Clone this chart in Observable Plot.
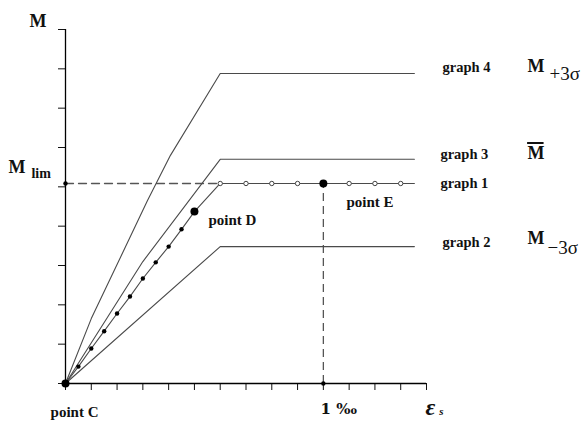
<!DOCTYPE html>
<html>
<head>
<meta charset="utf-8">
<script src="https://cdn.jsdelivr.net/npm/d3@7"></script>
<script src="https://cdn.jsdelivr.net/npm/@observablehq/plot@0.6"></script>
<style>
  html, body { margin: 0; padding: 0; background: white; }
</style>
</head>
<body>
<div id="chart"></div>
<script>
// ---- data (x in ‰ of strain, y in tick units of M) ----
const xTicks = [0, 0.1, 0.2, 0.3, 0.4, 0.5, 0.6, 0.7, 0.8, 0.9, 1.0, 1.1, 1.2, 1.3, 1.4];
const yTicks = [0, 1, 2, 3, 4, 5, 6, 7, 8, 9];
const Mlim = 5.085;

const graph4X = [0, 0.1, 0.318, 0.407, 0.6, 1.353];
const graph4Y = [0, 1.65, 4.65, 5.80, 7.88, 7.88];
const graph3X = [0, 0.3, 0.6, 1.353];
const graph3Y = [0, 3.1, 5.70, 5.70];
const graph2X = [0, 0.6, 1.353];
const graph2Y = [0, 3.48, 3.48];
const graph1X = [0, 0.05, 0.1, 0.15, 0.2, 0.25, 0.3, 0.35, 0.4, 0.45, 0.5, 0.6, 1.353];
const graph1Y = [0, 0.43, 0.89, 1.33, 1.78, 2.21, 2.67, 3.08, 3.48, 3.92, 4.37, Mlim, Mlim];
const smallDotsX = [0.05, 0.1, 0.15, 0.2, 0.25, 0.3, 0.35, 0.4, 0.45];
const smallDotsY = [0.43, 0.89, 1.33, 1.78, 2.21, 2.67, 3.08, 3.48, 3.92];
const openCirclesX = [0.6, 0.7, 0.8, 0.9, 1.1, 1.2, 1.3];
const pointC = {x: 0, y: 0};
const pointD = {x: 0.5, y: 4.37};
const pointE = {x: 1.0, y: Mlim};

// label anchors (data units; baseline-left)
const boldLabels = [
  {t: "point C", x: -0.058, y: -0.839},
  {t: "point D", x: 0.5546, y: 4.042},
  {t: "point E", x: 1.0897, y: 4.50}
];
const permilLabel = [{t: "1 ‰", x: 0.989, y: -0.763}];
const graphLabels = [
  {t: "graph 4", x: 1.462, y: 7.907},
  {t: "graph 3", x: 1.454, y: 5.695},
  {t: "graph 1", x: 1.454, y: 4.983},
  {t: "graph 2", x: 1.462, y: 3.458}
];
const bigM = [
  {t: "M", x: -0.1396, y: 9.051},
  {t: "M", x: -0.221, y: 5.364},
  {t: "M", x: 1.792, y: 7.907},
  {t: "M", x: 1.792, y: 3.534}
];
const mBar = [{t: "M", x: 1.792, y: 5.72}];
const subLim = [{t: "lim", x: -0.132, y: 5.237}];
const subSigma = [
  {t: "+3σ", x: 1.877, y: 7.704},
  {t: "−3σ", x: 1.869, y: 3.305}
];
const epsLabel = [{t: "ε", x: 1.396, y: -0.80}];
const epsSub = [{t: "s", x: 1.449, y: -0.79}];

const zip = (xs, ys) => xs.map((x, i) => ({x, y: ys[i]}));
const lineColor = "#4a4a4a";
const serif = "Liberation Serif, Times New Roman, serif";

const chart = Plot.plot({
  width: 587,
  height: 421,
  marginLeft: 65,
  marginRight: 161,
  marginTop: 29,
  marginBottom: 38,
  style: {fontFamily: serif, background: "white", overflow: "visible"},
  x: {domain: [0, 1.4]},
  y: {domain: [0, 9]},
  marks: [
    // dashed guide lines
    Plot.line(zip([0, 0.6], [Mlim, Mlim]), {x: "x", y: "y", stroke: "#555", strokeWidth: 1.3, strokeDasharray: "8,5"}),
    Plot.ruleX([pointE], {x: "x", y1: 0, y2: "y", stroke: "#555", strokeWidth: 1.3, strokeDasharray: "8,5"}),
    // axes
    Plot.axisX(xTicks, {tickSize: 7, tickFormat: () => "", label: null, stroke: "#111"}),
    Plot.axisY(yTicks, {tickSize: 7, tickFormat: () => "", label: null, stroke: "#111"}),
    Plot.ruleY([0], {stroke: "#000", strokeWidth: 1.3}),
    Plot.ruleX([0], {stroke: "#000", strokeWidth: 1.3}),
    // graphs
    Plot.line(zip(graph4X, graph4Y), {x: "x", y: "y", stroke: lineColor, strokeWidth: 1.1}),
    Plot.line(zip(graph3X, graph3Y), {x: "x", y: "y", stroke: lineColor, strokeWidth: 1.1}),
    Plot.line(zip(graph2X, graph2Y), {x: "x", y: "y", stroke: lineColor, strokeWidth: 1.1}),
    Plot.line(zip(graph1X, graph1Y), {x: "x", y: "y", stroke: lineColor, strokeWidth: 1.1}),
    // points
    Plot.dot(zip(smallDotsX, smallDotsY), {x: "x", y: "y", r: 2.2, fill: "#000", stroke: "none"}),
    Plot.dot(openCirclesX.map(x => ({x, y: Mlim})), {x: "x", y: "y", r: 2.2, fill: "white", stroke: "#444", strokeWidth: 1}),
    Plot.dot([pointC, pointD, pointE], {x: "x", y: "y", r: 4, fill: "#000", stroke: "none"}),
    Plot.dot([{x: 0, y: Mlim}, {x: pointE.x, y: 0}], {x: "x", y: "y", r: 2.2, fill: "#000", stroke: "none"}),
    // labels
    Plot.text(boldLabels, {x: "x", y: "y", text: "t", textAnchor: "start", lineAnchor: "bottom", fontSize: 15, fontWeight: "bold", fill: "#111"}),
    Plot.text(permilLabel, {x: "x", y: "y", text: "t", textAnchor: "start", lineAnchor: "bottom", fontSize: 15, fontWeight: "bold", fill: "#111", fontFamily: "DejaVu Serif, Liberation Serif, serif"}),
    Plot.text(graphLabels, {x: "x", y: "y", text: "t", textAnchor: "start", lineAnchor: "bottom", fontSize: 14.5, fontWeight: "bold", fill: "#111"}),
    Plot.text(bigM, {x: "x", y: "y", text: "t", textAnchor: "start", lineAnchor: "bottom", fontSize: 18, fontWeight: "bold", fill: "#111"}),
    Plot.text(mBar, {x: "x", y: "y", text: "t", textAnchor: "start", lineAnchor: "bottom", fontSize: 18, fontWeight: "bold", fill: "#111"}),
    Plot.ruleY(mBar, {y: "y", x1: "x", x2: d => d.x + 0.064, dy: -15.5, stroke: "#111", strokeWidth: 2}),
    Plot.text(subLim, {x: "x", y: "y", text: "t", textAnchor: "start", lineAnchor: "bottom", fontSize: 14, fontWeight: "bold", fill: "#111"}),
    Plot.text(subSigma, {x: "x", y: "y", text: "t", textAnchor: "start", lineAnchor: "bottom", fontSize: 19, fill: "#111"}),
    Plot.text(epsLabel, {x: "x", y: "y", text: "t", textAnchor: "start", lineAnchor: "bottom", fontSize: 24, fontWeight: "bold", fontStyle: "italic", fill: "#111"}),
    Plot.text(epsSub, {x: "x", y: "y", text: "t", textAnchor: "start", lineAnchor: "bottom", fontSize: 11, fontWeight: "bold", fontStyle: "italic", fill: "#111"})
  ]
});

document.getElementById("chart").appendChild(chart);
</script>
</body>
</html>
